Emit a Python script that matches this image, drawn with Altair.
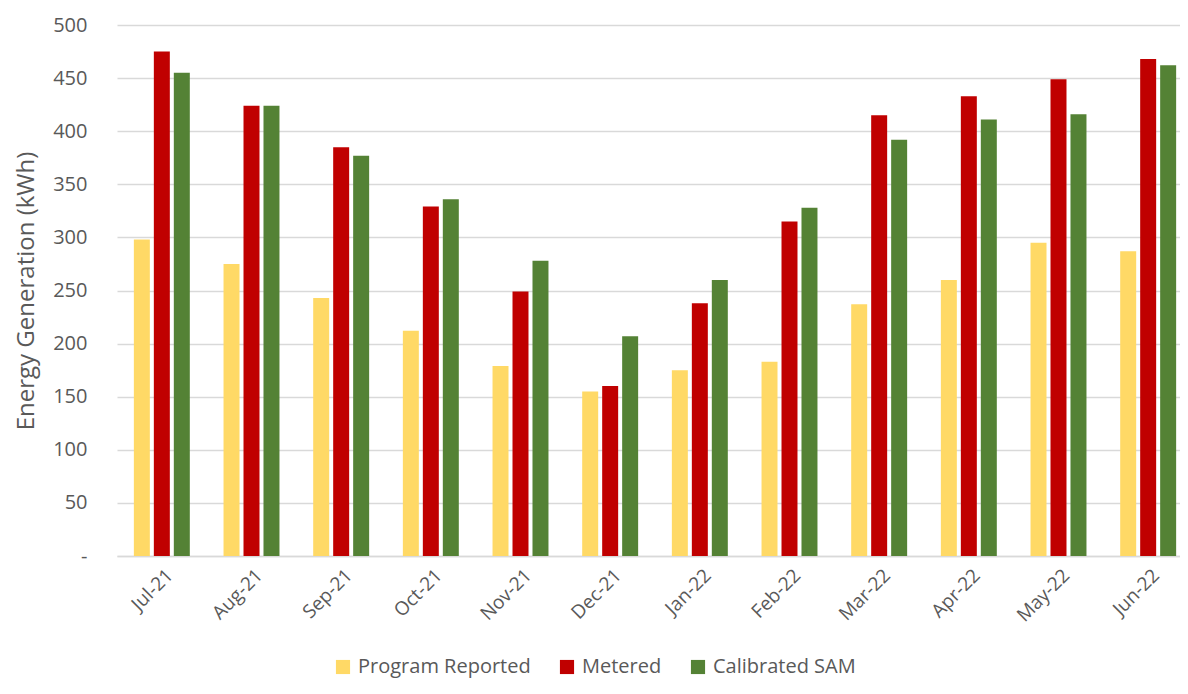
import altair as alt
import pandas as pd

months = ["Jul-21", "Aug-21", "Sep-21", "Oct-21", "Nov-21", "Dec-21",
          "Jan-22", "Feb-22", "Mar-22", "Apr-22", "May-22", "Jun-22"]
series_names = ["Program Reported", "Metered", "Calibrated SAM"]
program_reported = [298, 275, 243, 212, 179, 155, 175, 183, 237, 260, 295, 287]
metered = [475, 424, 385, 329, 249, 160, 238, 315, 415, 433, 449, 468]
calibrated_sam = [455, 424, 377, 336, 278, 207, 260, 328, 392, 411, 416, 462]
colors = ["#FFD966", "#C00000", "#548235"]

rows = []
for name, vals in zip(series_names, [program_reported, metered, calibrated_sam]):
    for m, v in zip(months, vals):
        rows.append({"Month": m, "Series": name, "Value": v})
df = pd.DataFrame(rows)

FONT = "Open Sans"
GRAY = "#595959"

chart = alt.Chart(df).mark_bar().encode(
    x=alt.X("Month:N", sort=months,
            scale=alt.Scale(paddingInner=0.376, paddingOuter=0.188, range=[0, 1076]),
            axis=alt.Axis(title=None, labelAngle=-45, labelAlign="right",
                          labelBaseline="middle", labelPadding=16, labelOffset=8,
                          ticks=False, domainColor="#D9D9D9", domainWidth=1.5,
                          labelFont=FONT, labelFontSize=19, labelColor=GRAY)),
    xOffset=alt.XOffset("Series:N", sort=series_names,
                        scale=alt.Scale(paddingInner=0.2)),
    y=alt.Y("Value:Q", scale=alt.Scale(domain=[0, 500], nice=False),
            axis=alt.Axis(title="Energy Generation (kWh)", values=list(range(0, 501, 50)),
                          labelExpr="datum.value == 0 ? '-' : datum.label",
                          ticks=False, domain=False, labelPadding=30,
                          gridColor="#D9D9D9", gridWidth=1.5,
                          labelFont=FONT, labelFontSize=20, labelColor=GRAY,
                          titleFont=FONT, titleFontSize=24, titleColor=GRAY,
                          titleFontWeight="normal", titlePadding=14)),
    color=alt.Color("Series:N", sort=series_names,
                    scale=alt.Scale(domain=series_names, range=colors),
                    legend=alt.Legend(title=None, orient="none", direction="horizontal",
                                      legendX=216, legendY=632,
                                      symbolType="square", symbolSize=200,
                                      symbolStrokeWidth=0, labelFont=FONT,
                                      labelFontSize=20, labelColor=GRAY, labelLimit=0,
                                      labelOffset=5, columnPadding=26)),
).properties(
    width=1063, height=531, autosize="none",
    padding={"left": 109, "top": 17, "right": 0, "bottom": 130},
).configure_view(stroke=None)

chart.save("out.html", embed_options={"renderer": "svg", "actions": False})
